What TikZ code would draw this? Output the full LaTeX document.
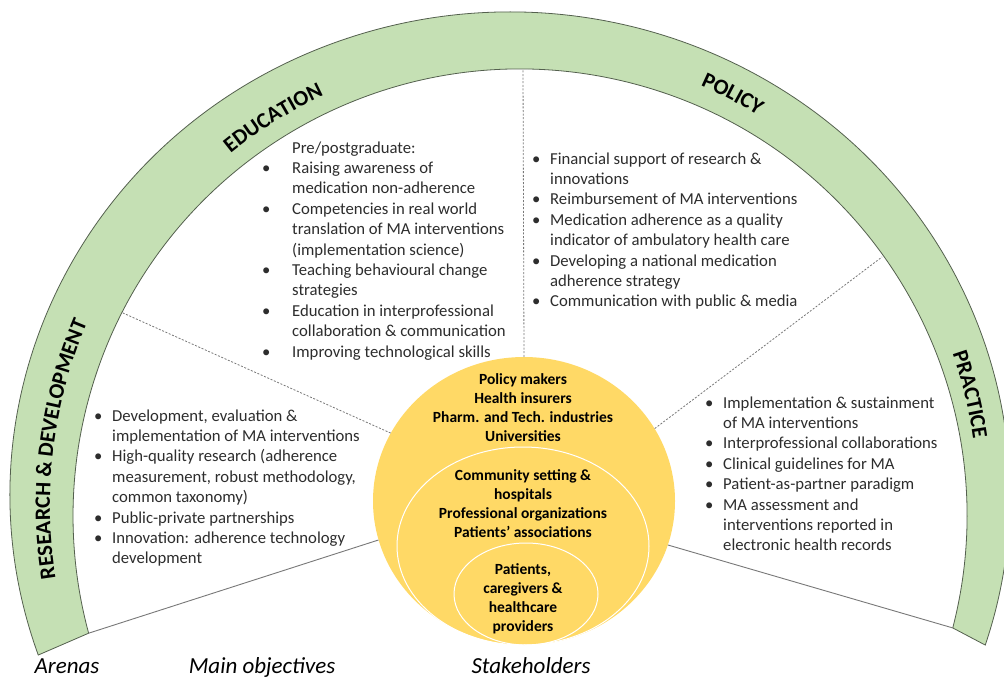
\documentclass[tikz,border=0pt]{standalone}
\usepackage{fontspec}
\setmainfont{Carlito}
\usetikzlibrary{shapes.geometric,decorations.text}

\definecolor{bandfill}{RGB}{197,224,180}
\definecolor{bandline}{RGB}{84,96,78}
\definecolor{stakefill}{RGB}{255,217,102}
\definecolor{bodytext}{RGB}{45,45,45}
\definecolor{divider}{RGB}{120,120,120}

\newcommand\bodysize{\fontsize{16.7}{20.4}\selectfont}
\newcommand\stakesize{\fontsize{15.5}{19}\selectfont\bfseries}
\newcommand\arenasize{\fontsize{22}{22}\selectfont\bfseries}
\newcommand\captionsize{\fontsize{23}{27}\selectfont\itshape}
\newcommand\itm{\makebox[18pt][l]{\textbullet}}
\newcommand\cnt{\hspace*{18pt}}
\newcommand\itmw{\makebox[30pt][l]{\textbullet}}
\newcommand\cntw{\hspace*{30pt}}

\begin{document}
\begin{tikzpicture}[x=1pt,y=-1pt,
  band/.style={fill=bandfill,draw=bandline,line width=0.8pt,line join=miter},
  solidsep/.style={draw=divider,line width=0.9pt},
  dashsep/.style={draw=divider,line width=0.8pt,dash pattern=on 2pt off 1.6pt},
  objectives/.style={anchor=north west,inner sep=0pt,align=left,font=\bodysize,text=bodytext},
  who/.style={anchor=north,inner sep=0pt,align=center,font=\stakesize,text=black},
  ring/.style={ellipse,draw=white,line width=1pt,inner sep=0pt},
  caption/.style={anchor=base,inner sep=0pt,font=\captionsize,text=black},
  arena/.style={decorate,decoration={text along path,text align=center,text={#1}}}
]
% canvas
\fill[white] (0,0) rectangle (1004,678);
\useasboundingbox (0,0) rectangle (1004,678);

% corner and edge points of the arena band
\coordinate (outL) at ([shift={(510,495)}]160.65:500 and 483);
\coordinate (inL) at ([shift={(520,516)}]164.8:447);
\coordinate (inR) at ([shift={(520,516)}]14.5:447);
\coordinate (eduR) at (123,313);
\coordinate (eduP) at (523,69);
\coordinate (polP) at (882,257);

% green arena band
\draw[band] (outL)
  arc[start angle=160.65,end angle=378.1,x radius=500,y radius=483]
  -- (inR) arc[start angle=374.5,end angle=164.8,radius=447] -- cycle;

% arena names set along the band
\path[arena={|\arenasize|EDUCATION}]
  ([shift={(515,505)}]-152:452) arc[start angle=-152,end angle=-92,radius=452];
\path[arena={|\arenasize|POLICY}]
  ([shift={(515,505)}]-87.1:459) arc[start angle=-87.1,end angle=-37.1,radius=459];
\path[arena={|\arenasize|RESEARCH {\&} DEVELOPMENT}]
  ([shift={(515,505)}]-203:465) arc[start angle=-203,end angle=-143,radius=465];
\path[arena={|\arenasize|PRACTICE}]
  ([shift={(515,505)}]-35.65:463) arc[start angle=-35.65,end angle=8.35,radius=463];

% stakeholder circles
\node[ellipse,fill=stakefill,minimum width=302pt,minimum height=288pt,inner sep=0pt] (stake) at (524,501) {};
\node[ring,minimum width=252pt,minimum height=198pt] (midring) at (523,546) {};
\node[ring,minimum width=144pt,minimum height=102pt] (inring) at (526,594) {};

% sector dividers
\draw[solidsep] (stake.195) -- (inL);
\draw[solidsep] (stake.343) -- (inR);
\draw[dashsep] (stake.153) -- (eduR);
\draw[dashsep] (stake.90) -- (eduP);
\draw[dashsep] (stake.29) -- (polP);

% main objectives
\node[objectives] (edu) at (262,138.7) {\strut\cntw Pre/postgraduate:\\
  \itmw Raising awareness of\\
  \cntw medication non-adherence\\
  \itmw Competencies in real world\\
  \cntw translation of MA interventions\\
  \cntw (implementation science)\\
  \itmw Teaching behavioural change\\
  \cntw strategies\\
  \itmw Education in interprofessional\\
  \cntw collaboration \& communication\\
  \itmw Improving technological skills};

\node[objectives] (pol) at (532,149.7) {\strut\itm Financial support of research \&\\
  \cnt innovations\\
  \itm Reimbursement of MA interventions\\
  \itm Medication adherence as a quality\\
  \cnt indicator of ambulatory health care\\
  \itm Developing a national medication\\
  \cnt adherence strategy\\
  \itm Communication with public \& media};

\node[objectives] (rnd) at (94,406.7) {\strut\itm Development, evaluation \&\\
  \cnt implementation of MA interventions\\
  \itm High-quality research (adherence\\
  \cnt measurement, robust methodology,\\
  \cnt common taxonomy)\\
  \itm Public-private partnerships\\
  \itm Innovation: adherence technology\\
  \cnt development};

\node[objectives] (prac) at (705,393.7) {\strut\itm Implementation \& sustainment\\
  \cnt of MA interventions\\
  \itm Interprofessional collaborations\\
  \itm Clinical guidelines for MA\\
  \itm Patient-as-partner paradigm\\
  \itm MA assessment and\\
  \cnt interventions reported in\\
  \cnt electronic health records};

% stakeholders
\node[who] (outerwho) at (523,370.7) {\strut Policy makers\\ Health insurers\\ Pharm. and Tech. industries\\ Universities};
\node[who] (midwho) at (523,466.7) {\strut Community setting \&\\ hospitals\\ Professional organizations\\ Patients’ associations};
\node[who] (innerwho) at (523,560.7) {\strut Patients,\\ caregivers \&\\ healthcare\\ providers};

% column captions
\node[caption] (capA) at (67,673) {Arenas};
\node[caption] (capM) at (262,673) {Main objectives};
\node[caption] (capS) at (531,673) {Stakeholders};
\end{tikzpicture}
\end{document}
